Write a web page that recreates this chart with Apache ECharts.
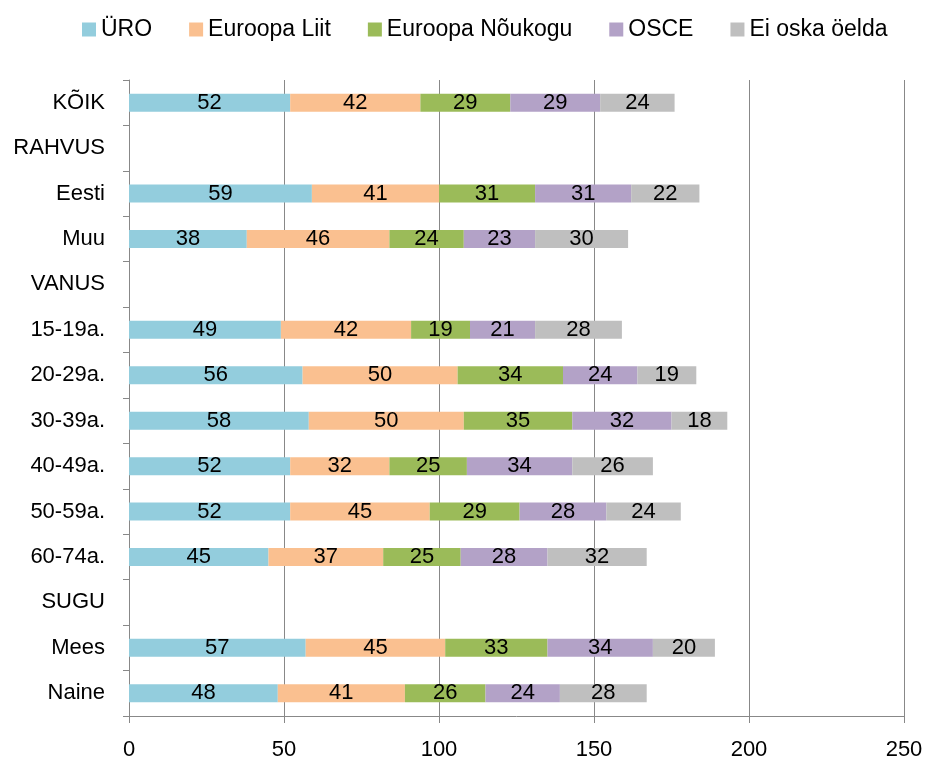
<!DOCTYPE html>
<html>
<head>
<meta charset="utf-8">
<script src="https://cdn.jsdelivr.net/npm/echarts@6/dist/echarts.min.js"></script>
<style>
  html, body { margin: 0; padding: 0; background: #fff; }
  #chart { width: 927px; height: 761px; }
</style>
</head>
<body>
<div id="chart"></div>
<script>
const FONT = '"Liberation Sans", "DejaVu Sans", sans-serif';

const categories = ['KÕIK', 'RAHVUS', 'Eesti', 'Muu', 'VANUS', '15-19a.', '20-29a.', '30-39a.',
    '40-49a.', '50-59a.', '60-74a.', 'SUGU', 'Mees', 'Naine'];

const seriesNames = ['ÜRO', 'Euroopa Liit', 'Euroopa Nõukogu', 'OSCE', 'Ei oska öelda'];
const colors      = ['#93CDDD', '#FAC090', '#9BBB59', '#B3A2C7', '#BFBFBF'];

// '-' = heading row with no bar
const uro       = [52, '-', 59, 38, '-', 49, 56, 58, 52, 52, 45, '-', 57, 48];
const euLiit    = [42, '-', 41, 46, '-', 42, 50, 50, 32, 45, 37, '-', 45, 41];
const euNoukogu = [29, '-', 31, 24, '-', 19, 34, 35, 25, 29, 25, '-', 33, 26];
const osce      = [29, '-', 31, 23, '-', 21, 24, 32, 34, 28, 28, '-', 34, 24];
const eiOska    = [24, '-', 22, 30, '-', 28, 19, 18, 26, 24, 32, '-', 20, 28];

const xTicks = [0, 50, 100, 150, 200, 250];

const values = [uro, euLiit, euNoukogu, osce, eiOska];

const chart = echarts.init(document.getElementById('chart'), null, { renderer: 'canvas' });

chart.setOption({
    animation: false,
    textStyle: { fontFamily: FONT },
    legend: {
        top: 13,
        left: 77,
        itemWidth: 14,
        itemHeight: 14,
        itemGap: 37,
        icon: 'rect',
        textStyle: { fontFamily: FONT, fontSize: 23, color: '#000' },
        data: seriesNames,
    },
    grid: { left: 129, right: 23, top: 80, bottom: 45, containLabel: false },
    xAxis: {
        type: 'value',
        min: xTicks[0],
        max: xTicks[xTicks.length - 1],
        interval: 50,
        axisLine: { show: true, lineStyle: { color: '#888', width: 1 } },
        axisTick: { show: true, length: 7, lineStyle: { color: '#888' } },
        splitLine: { show: true, lineStyle: { color: '#888', width: 1 } },
        axisLabel: { fontFamily: FONT, fontSize: 22, color: '#000', margin: 23 },
    },
    yAxis: {
        type: 'category',
        inverse: true,
        data: categories,
        axisLine: { show: true, lineStyle: { color: '#888', width: 1 } },
        axisTick: { show: true, length: 6, lineStyle: { color: '#888' } },
        axisLabel: { fontFamily: FONT, fontSize: 22, color: '#000', margin: 24 },
    },
    series: seriesNames.map((name, i) => ({
        name,
        type: 'bar',
        stack: 'total',
        data: values[i],
        barWidth: 18,
        itemStyle: { color: colors[i] },
        label: {
            show: true,
            position: 'inside',
            fontFamily: FONT,
            fontSize: 22,
            color: '#000',
        },
    })),
});
</script>
</body>
</html>
